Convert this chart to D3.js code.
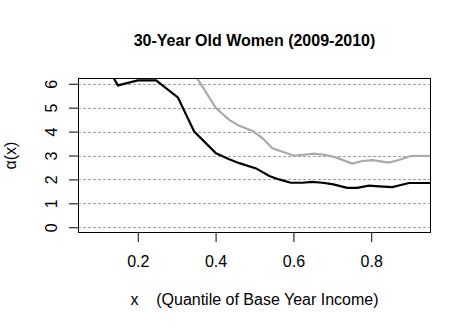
<!DOCTYPE html>
<html lang="en">
<head>
	<meta charset="UTF-8">
	<title>30-Year Old Women</title>
	<script src="https://cdn.jsdelivr.net/npm/d3@7/dist/d3.min.js"></script>
	<style>
		body{margin:0;background:#fff;}
		svg{display:block;font-family:"Liberation Sans",Arial,sans-serif;}
	</style>
</head>
<body>
	<svg id="chart" width="472" height="331"></svg>
	<script>
		// values
		var blackX = [0.12, 0.138, 0.149, 0.2, 0.247, 0.303, 0.345, 0.401, 0.435, 0.461, 0.504, 0.538, 0.563, 0.593, 0.623, 0.649, 0.674, 0.7, 0.738, 0.764, 0.794, 0.82, 0.854, 0.897, 0.955];
		var blackY = [6.8, 6.24, 5.93, 6.14, 6.14, 5.43, 4.0, 3.09, 2.84, 2.68, 2.46, 2.14, 2.0, 1.86, 1.86, 1.9, 1.86, 1.8, 1.65, 1.65, 1.74, 1.71, 1.68, 1.85, 1.85];
		var grayX = [0.33, 0.352, 0.401, 0.435, 0.461, 0.495, 0.521, 0.546, 0.572, 0.602, 0.619, 0.653, 0.683, 0.709, 0.751, 0.777, 0.803, 0.845, 0.871, 0.901, 0.955];
		var grayY = [7.0, 6.24, 4.98, 4.49, 4.24, 4.03, 3.72, 3.3, 3.16, 2.99, 3.02, 3.08, 3.02, 2.92, 2.66, 2.77, 2.81, 2.7, 2.81, 2.98, 2.99];
		var xTicks = [0.2, 0.4, 0.6, 0.8];
		var yTicks = [0, 1, 2, 3, 4, 5, 6];

		var svg = d3.select("#chart"),
			pL = 78, pR = 431, pT = 78, pB = 233;
		var x = d3.scaleLinear().domain([0.0464, 0.9536]).range([pL, pR]),
			y = d3.scaleLinear().domain([-0.24, 6.24]).range([pB, pT]);

		svg.append("defs").append("clipPath").attr("id", "clip")
			.append("rect").attr("x", pL).attr("y", pT)
			.attr("width", pR - pL).attr("height", pB - pT);

		// dotted grid
		svg.append("g").selectAll("line").data(yTicks).enter().append("line")
			.attr("x1", pL).attr("x2", pR)
			.attr("y1", d => Math.round(y(d)) + 0.5).attr("y2", d => Math.round(y(d)) + 0.5)
			.attr("stroke", "#a0a0a0").attr("stroke-dasharray", "3,2");

		var line = d3.line().x(d => x(d[0])).y(d => y(d[1]));
		var g = svg.append("g").attr("clip-path", "url(#clip)");
		g.append("path").datum(d3.zip(grayX, grayY)).attr("d", line)
			.attr("fill", "none").attr("stroke", "#a9a9a9").attr("stroke-width", 2.2);
		g.append("path").datum(d3.zip(blackX, blackY)).attr("d", line)
			.attr("fill", "none").attr("stroke", "#000").attr("stroke-width", 2.2);

		// box
		svg.append("rect").attr("x", pL + 0.5).attr("y", pT + 0.5)
			.attr("width", pR - pL - 1).attr("height", pB - pT - 1)
			.attr("fill", "none").attr("stroke", "#000");

		// x axis
		var xa = svg.append("g").attr("transform", "translate(0," + (pB - 1) + ")")
			.call(d3.axisBottom(x).tickValues(xTicks).tickSize(10).tickPadding(14).tickFormat(d3.format(".1f")));
		xa.select(".domain").remove();
		xa.selectAll("text").attr("font-size", 16).attr("fill", "#000");

		// y axis
		var ya = svg.append("g").attr("transform", "translate(" + (pL + 1) + ",0)")
			.call(d3.axisLeft(y).tickValues(yTicks).tickSize(10).tickFormat(d3.format("d")));
		ya.select(".domain").remove();
		ya.selectAll("text").attr("font-size", 16).attr("fill", "#000")
			.attr("text-anchor", "middle").attr("dy", null).attr("x", null)
			.attr("transform", "translate(-22,0) rotate(-90)");

		svg.append("text").attr("x", (pL + pR) / 2).attr("y", 46)
			.attr("text-anchor", "middle").attr("font-size", 16).attr("font-weight", "bold")
			.text("30-Year Old Women (2009-2010)");
		svg.append("text").attr("x", (pL + pR) / 2).attr("y", 305)
			.attr("text-anchor", "middle").attr("font-size", 16).attr("xml:space", "preserve")
			.text("x    (Quantile of Base Year Income)");
		svg.append("text").attr("transform", "translate(16," + ((pT + pB) / 2) + ") rotate(-90)")
			.attr("text-anchor", "middle").attr("font-size", 16)
			.text("\u03b1(x)");
	</script>
</body>
</html>
